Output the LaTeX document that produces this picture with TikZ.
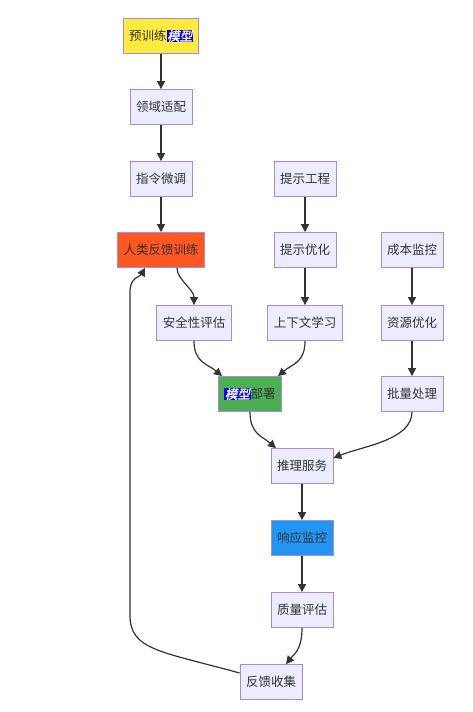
\documentclass[tikz,border=0pt]{standalone}
\usepackage{fontspec}
\setmainfont{Noto Sans CJK SC}[AutoFakeSlant=0.2, AutoFakeBold=1.5]
\usetikzlibrary{arrows.meta}
\definecolor{nodefill}{HTML}{ECECFF}
\definecolor{nodeborder}{HTML}{A58BE0}
\definecolor{txt}{HTML}{333333}
\definecolor{yel}{HTML}{FFEB3B}
\definecolor{org}{HTML}{FF5722}
\definecolor{grn}{HTML}{4CAF50}
\definecolor{blu}{HTML}{2196F3}
\definecolor{hlblue}{HTML}{0000FF}
\newcommand{\hlmark}[1]{{\setlength{\fboxsep}{0.6pt}\colorbox{hlblue}{\textcolor{white}{\bfseries\itshape #1}}}}
\begin{document}
\begin{tikzpicture}[x=1pt,y=-1pt,
  box/.style={draw=nodeborder, fill=nodefill, line width=0.8pt, minimum height=35pt, inner xsep=6pt, inner ysep=0pt, text=txt, font=\fontsize{12.5}{15}\selectfont},
  edge/.style={draw=txt, line width=1.2pt, -{Triangle[length=8pt,width=8pt]}}]
\useasboundingbox[fill=white] (0,0) rectangle (473,712);
\node[box, fill=yel] (n1) at (161,36) {预训练\hlmark{模型}};
\node[box] (n2) at (161,107) {领域适配};
\node[box] (n3) at (161,179) {指令微调};
\node[box, fill=org] (n4) at (161,250) {人类反馈训练};
\node[box] (n5) at (194,323) {安全性评估};
\node[box] (n6) at (305,179) {提示工程};
\node[box] (n7) at (305,250) {提示优化};
\node[box] (n8) at (305,323) {上下文学习};
\node[box] (n9) at (412,250) {成本监控};
\node[box] (n10) at (412,323) {资源优化};
\node[box] (n11) at (412,394) {批量处理};
\node[box, fill=grn] (n12) at (250,394) {\hlmark{模型}部署};
\node[box] (n13) at (302,466) {推理服务};
\node[box, fill=blu] (n14) at (302,538) {响应监控};
\node[box] (n15) at (302,610) {质量评估};
\node[box] (n16) at (271,682) {反馈收集};

\draw[edge] (n1) -- (n2);
\draw[edge] (n2) -- (n3);
\draw[edge] (n3) -- (n4);
\draw[edge] ([xshift=16pt]n4.south) .. controls +(0,12) and +(0,-16) .. (n5.north);
\draw[edge] (n6) -- (n7);
\draw[edge] (n7) -- (n8);
\draw[edge] (n9) -- (n10);
\draw[edge] (n10) -- (n11);
\draw[edge] (n5.south) .. controls +(0,22) and +(-14,-12) .. ([xshift=-28pt]n12.north);
\draw[edge] (n8.south) .. controls +(0,22) and +(14,-12) .. ([xshift=28pt]n12.north);
\draw[edge] (n12.south) .. controls +(0,22) and +(-14,-12) .. ([xshift=-26pt]n13.north);
\draw[edge] (n11.south) .. controls +(0,28) and +(30,-12) .. ([yshift=8pt]n13.east);
\draw[edge] (n13) -- (n14);
\draw[edge] (n14) -- (n15);
\draw[edge] (n15.south) .. controls +(0,22) and +(8,-10) .. ([xshift=15pt]n16.north);
\coordinate (fbA) at (130,615);
\coordinate (fbB) at (130,292);
\draw[edge] ([yshift=9pt]n16.west) .. controls +(-80,-22) and +(0,35) .. (fbA) -- (fbB) .. controls +(0,-15) and +(-5,9) .. ([xshift=-16pt]n4.south);
\end{tikzpicture}
\end{document}
